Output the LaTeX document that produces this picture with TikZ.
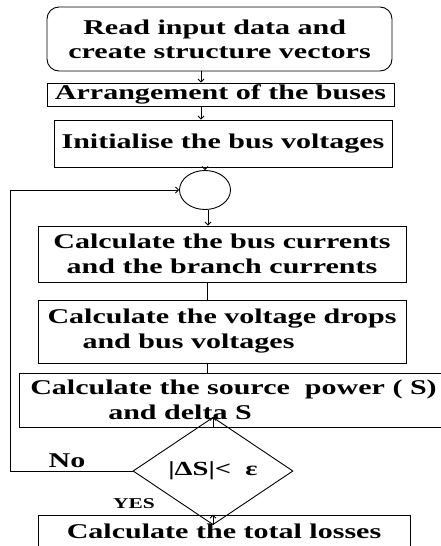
\documentclass[tikz,border=0pt]{standalone}
\usepackage{fontspec}
\setmainfont[FakeStretch=1.43]{Liberation Serif}
\usetikzlibrary{shapes.geometric,arrows.meta}
\begin{document}
\begin{tikzpicture}[x=1pt,y=-1pt,
  box/.style={draw,line width=0.9pt,inner sep=0pt,font=\fontsize{21}{25}\selectfont\bfseries},
  arr/.style={line width=0.9pt,-{Straight Barb[length=3pt,width=6pt]}},
  ln/.style={line width=0.9pt},
  lab/.style={inner sep=0pt,font=\fontsize{21}{25}\selectfont\bfseries}]
\clip (0,0) rectangle (441,546);
\fill[white] (0,0) rectangle (441,546);
\node[box,rounded corners=12pt,minimum width=345pt,minimum height=64pt,align=left,
  font=\fontsize{21}{24}\selectfont\bfseries] (b1) at (219.5,39)
  {\hspace*{15pt}Read input data and\\create structure vectors};
\node[box,minimum width=347pt,minimum height=23pt] (b2) at (220.5,94.5) {Arrangement of the buses};
\node[box,minimum width=338pt,minimum height=47pt] (b3) at (223,143.5) {Initialise the bus voltages};
\node[draw,line width=0.9pt,ellipse,minimum width=51pt,minimum height=39pt,inner sep=0pt] (circ) at (205,190) {};
\node[box,minimum width=368pt,minimum height=56pt,align=center] (b4) at (222,254)
  {Calculate the bus currents\\and the branch currents};
\node[box,minimum width=368pt,minimum height=63pt,align=left] (b5) at (222,331.5)
  {Calculate the voltage drops\\\hspace*{35pt}and bus voltages};
\node[box,minimum width=429pt,minimum height=54pt,align=left] (b6) at (233.5,400)
  {Calculate the source\ \ power ( S)\\\hspace*{78pt}and delta S};
\node[draw,line width=0.9pt,diamond,minimum width=160pt,minimum height=53pt,inner sep=0pt,
  font=\fontsize{20}{24}\selectfont\bfseries] (dia) at (213,471) {|ΔS|<\ \ ε};
\node[box,minimum width=372pt,minimum height=33pt] (b7) at (224,531.5) {Calculate the total losses};
\node[lab] (no) at (67,461) {No};
\node[lab,font=\fontsize{15}{18}\selectfont\bfseries] (yes) at (134,504) {YES};
\coordinate (ax1) at (201,0);
\coordinate (ax2) at (208,0);
\coordinate (ax3) at (207,0);
\coordinate (lx) at (10,0);
\draw[arr] (b1.south -| ax1) -- (b2.north -| ax1);
\draw[arr] (b2.south -| ax1) -- (b3.north -| ax1);
\draw[arr] (b3.south -| circ.north) -- (circ.north);
\draw[arr] (circ.south -| ax2) -- (b4.north -| ax2);
\draw[ln] (b4.south -| ax3) -- (b5.north -| ax3);
\draw[ln] (b5.south -| ax3) -- (b6.north -| ax3);
\draw[arr] (b6.south -| dia.north) -- (dia.north);
\draw[arr] (dia.south) -- (b7.north -| dia.south);
\draw[arr] (dia.west) -- (dia.west -| lx) -- (lx |- circ.west) -- (circ.west);
\end{tikzpicture}
\end{document}
